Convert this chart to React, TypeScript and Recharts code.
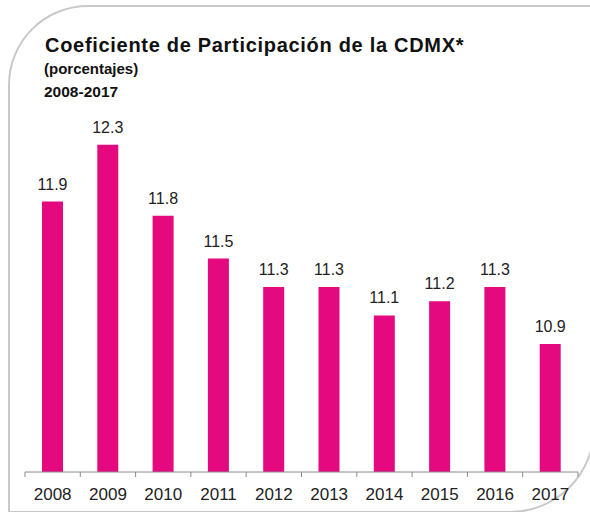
import React from "react"
import { BarChart, Bar, XAxis, YAxis, LabelList } from "recharts"

const YEARS = ["2008", "2009", "2010", "2011", "2012", "2013", "2014", "2015", "2016", "2017"]
const COEFICIENTE = [11.9, 12.3, 11.8, 11.5, 11.3, 11.3, 11.1, 11.2, 11.3, 10.9]

const data = YEARS.map((year, i) => ({ year, value: COEFICIENTE[i] }))

const W = 590
const H = 512
const MARGIN = { top: 45, right: 12, left: 25, bottom: 10 }
const STEP = (W - MARGIN.left - MARGIN.right) / YEARS.length
const FONT = "'Liberation Sans', Arial, Helvetica, sans-serif"
const PINK = "#E5097F"
const AXIS = "#8a8a8a"

const YearTick = ({ x, y, payload, index }: any) => {
  const last = index === YEARS.length - 1
  return (
    <g>
      <line x1={x - STEP / 2} x2={x - STEP / 2} y1={y - 5} y2={y} stroke={AXIS} />
      {last && <line x1={x + STEP / 2} x2={x + STEP / 2} y1={y - 5} y2={y} stroke={AXIS} />}
      <text x={x} y={y + 23} textAnchor="middle" fontSize={17} fill="#222" fontFamily={FONT}>
        {payload.value}
      </text>
    </g>
  )
}

export default function App() {
  return (
    <div
      style={{
        position: "absolute",
        top: 0,
        left: 0,
        width: W,
        height: H,
        overflow: "hidden",
        background: "#fff",
        fontFamily: FONT,
      }}
    >
      {/* rounded frame */}
      <div
        style={{
          position: "absolute",
          left: 8,
          top: 5,
          width: 595 - 8,
          height: 513 - 5,
          border: "2px solid #c8c8c8",
          borderTopLeftRadius: 80,
          borderBottomRightRadius: 85,
          boxSizing: "border-box",
        }}
      />
      <div
        style={{
          position: "absolute",
          left: 45,
          top: 35,
          fontSize: 20,
          lineHeight: 1,
          fontWeight: "bold",
          letterSpacing: 0.7,
          color: "#111",
          whiteSpace: "nowrap",
        }}
      >
        Coeficiente de Participación de la CDMX*
      </div>
      <div
        style={{
          position: "absolute",
          left: 44,
          top: 61,
          fontSize: 15,
          lineHeight: 1,
          fontWeight: "bold",
          color: "#111",
        }}
      >
        (porcentajes)
      </div>
      <div
        style={{
          position: "absolute",
          left: 44,
          top: 83.5,
          fontSize: 15.5,
          lineHeight: 1,
          fontWeight: "bold",
          color: "#111",
        }}
      >
        2008-2017
      </div>
      <div style={{ position: "absolute", left: 0, top: 0 }}>
        <BarChart width={W} height={H} data={data} margin={MARGIN}>
          <XAxis
            dataKey="year"
            height={30}
            stroke={AXIS}
            tickLine={false}
            tickSize={5}
            tickMargin={0}
            interval={0}
            tick={<YearTick />}
          />
          <YAxis hide domain={[10, 13]} allowDataOverflow />
          <Bar dataKey="value" fill={PINK} barSize={21} isAnimationActive={false}>
            <LabelList
              dataKey="value"
              position="top"
              offset={12}
              fontSize={16}
              fill="#222"
              fontFamily={FONT}
              formatter={(v: any) => Number(v).toFixed(1)}
            />
          </Bar>
        </BarChart>
      </div>
    </div>
  )
}
